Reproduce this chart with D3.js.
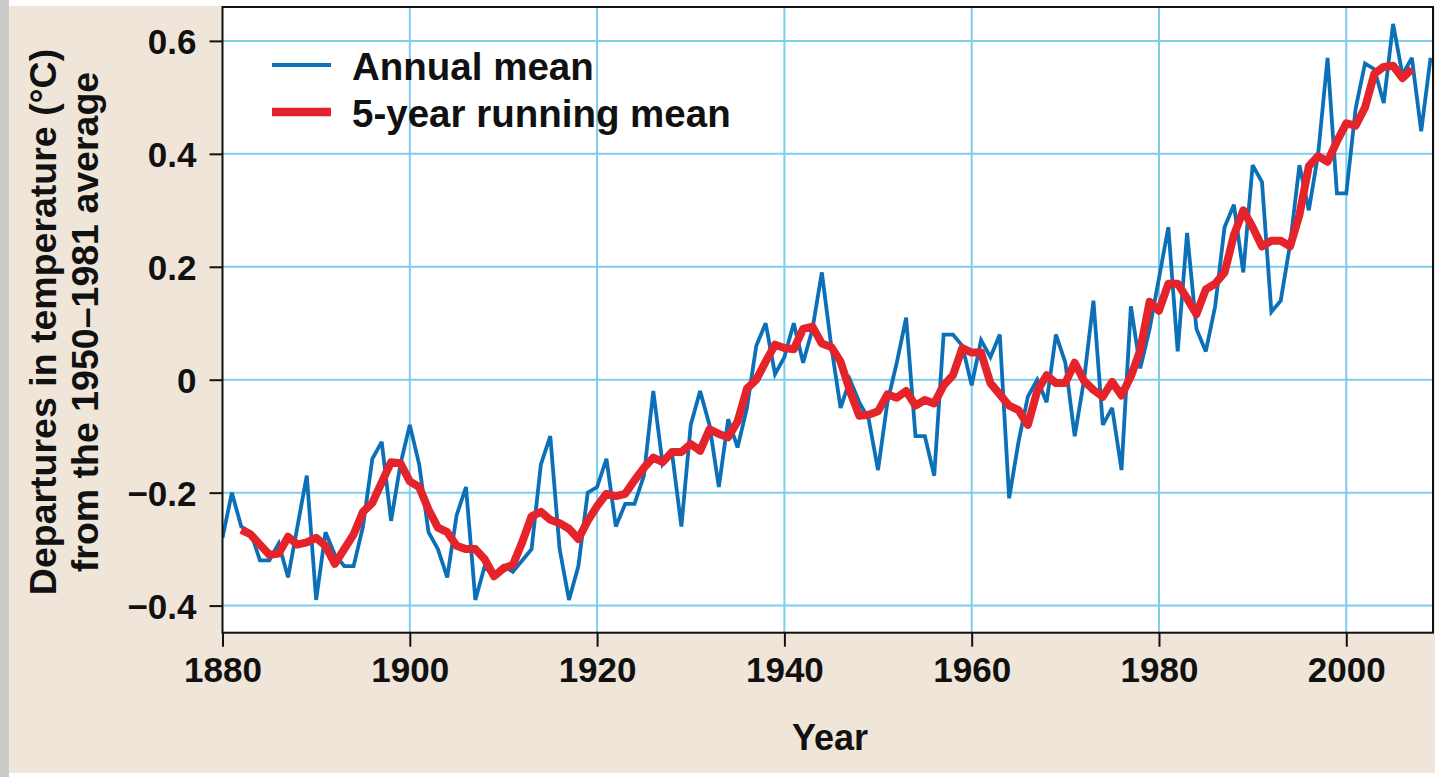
<!DOCTYPE html>
<html>
<head>
<meta charset="utf-8">
<script src="https://cdn.jsdelivr.net/npm/d3@7"></script>
<style>
  html, body { margin: 0; padding: 0; background: #ffffff; }
  svg { display: block; }
  text { font-family: "Liberation Sans", Arial, Helvetica, sans-serif; font-weight: bold; fill: #111; }
</style>
</head>
<body>
<svg id="chart" width="1435" height="777"></svg>
<script>
// ---- Data (°C departures from the 1950–1981 average) ----
const annualStartYear = 1880;
const annualMean = [
  -0.28,-0.20,-0.26,-0.27,-0.32,-0.32,-0.29,-0.35,-0.26,-0.17,
  -0.39,-0.27,-0.31,-0.33,-0.33,-0.26,-0.14,-0.11,-0.25,-0.15,
  -0.08,-0.15,-0.27,-0.30,-0.35,-0.24,-0.19,-0.39,-0.33,-0.35,
  -0.33,-0.34,-0.32,-0.30,-0.15,-0.10,-0.30,-0.39,-0.33,-0.20,
  -0.19,-0.14,-0.26,-0.22,-0.22,-0.17,-0.02,-0.15,-0.13,-0.26,
  -0.08,-0.02,-0.08,-0.19,-0.07,-0.12,-0.05,0.06,0.10,0.01,
  0.04,0.10,0.03,0.09,0.19,0.06,-0.05,0.00,-0.04,-0.07,
  -0.16,-0.04,0.03,0.11,-0.10,-0.10,-0.17,0.08,0.08,0.06,
  -0.01,0.07,0.04,0.08,-0.21,-0.11,-0.03,0.00,-0.04,0.08,
  0.03,-0.10,0.00,0.14,-0.08,-0.05,-0.16,0.13,0.02,0.09,
  0.18,0.27,0.05,0.26,0.09,0.05,0.13,0.27,0.31,0.19,
  0.38,0.35,0.12,0.14,0.24,0.38,0.30,0.40,0.57,0.33,
  0.33,0.48,0.56,0.55,0.49,0.63,0.54,0.57,0.44,0.57
];
const runningStartYear = 1882;
const runningMean = [
  -0.266,-0.274,-0.292,-0.310,-0.308,-0.278,-0.292,-0.288,-0.280,-0.294,
  -0.326,-0.300,-0.274,-0.234,-0.218,-0.182,-0.146,-0.148,-0.180,-0.190,
  -0.230,-0.262,-0.270,-0.294,-0.300,-0.300,-0.318,-0.348,-0.334,-0.328,
  -0.288,-0.242,-0.234,-0.248,-0.254,-0.264,-0.282,-0.250,-0.224,-0.202,
  -0.206,-0.202,-0.178,-0.156,-0.138,-0.146,-0.128,-0.128,-0.114,-0.126,
  -0.088,-0.096,-0.102,-0.074,-0.016,0.000,0.032,0.062,0.056,0.054,
  0.090,0.094,0.064,0.058,0.032,-0.020,-0.064,-0.062,-0.056,-0.026,
  -0.032,-0.020,-0.046,-0.036,-0.042,-0.010,0.008,0.056,0.048,0.048,
  -0.006,-0.026,-0.046,-0.054,-0.080,-0.020,0.008,-0.006,-0.006,0.030,
  -0.002,-0.018,-0.030,-0.004,-0.028,0.006,0.052,0.138,0.122,0.170,
  0.170,0.144,0.116,0.160,0.170,0.190,0.256,0.300,0.270,0.236,
  0.246,0.246,0.236,0.292,0.378,0.396,0.386,0.422,0.454,0.450,
  0.482,0.542,0.554,0.556,0.534,0.550
];
const xTickYears = [1880, 1900, 1920, 1940, 1960, 1980, 2000];
const yTickValues = [-0.4, -0.2, 0, 0.2, 0.4, 0.6];
const legendLabels = ["Annual mean", "5-year running mean"];
const axisTitleX = "Year";
const axisTitleY = ["Departures in temperature (\u00B0C)", "from the 1950\u20131981 average"];

// ---- Layout ----
const W = 1435, H = 777;
const plot = { left: 222.5, right: 1433, top: 7, bottom: 632.7 };
const colors = { annual: "#0b70b8", running: "#e5232b", grid: "#7dcdec", bg: "#efe5d8" };

const svg = d3.select("#chart");

// background
svg.append("rect").attr("x", 0).attr("y", 0).attr("width", W).attr("height", H).attr("fill", "#ffffff");
svg.append("rect").attr("x", 0).attr("y", 0).attr("width", 9).attr("height", H).attr("fill", "#cbcbcb");
svg.append("rect").attr("x", 9).attr("y", 6).attr("width", W - 9).attr("height", 767).attr("fill", colors.bg);

// scales
const x = d3.scaleLinear().domain([1880, 2009.26]).range([plot.left, plot.right]);
const y = d3.scaleLinear().domain([-0.448, 0.66]).range([plot.bottom, plot.top]);

// plot area
svg.append("rect")
  .attr("x", plot.left).attr("y", plot.top)
  .attr("width", plot.right - plot.left).attr("height", plot.bottom - plot.top)
  .attr("fill", "#ffffff");

// grid
const grid = svg.append("g");
grid.selectAll("line.v").data(xTickYears.filter(d => d > 1880)).join("line")
  .attr("x1", d => x(d)).attr("x2", d => x(d))
  .attr("y1", plot.top).attr("y2", plot.bottom)
  .attr("stroke", colors.grid).attr("stroke-width", 2);
grid.selectAll("line.h").data(yTickValues).join("line")
  .attr("x1", plot.left).attr("x2", plot.right)
  .attr("y1", d => y(d)).attr("y2", d => y(d))
  .attr("stroke", colors.grid).attr("stroke-width", 2);

// clip
svg.append("clipPath").attr("id", "clip").append("rect")
  .attr("x", plot.left).attr("y", plot.top)
  .attr("width", plot.right - plot.left).attr("height", plot.bottom - plot.top);

const annualData = annualMean.map((v, i) => ({ year: annualStartYear + i, v }));
const runningData = runningMean.map((v, i) => ({ year: runningStartYear + i, v }));

const line = d3.line().x(d => x(d.year)).y(d => y(d.v));

const lines = svg.append("g").attr("clip-path", "url(#clip)");
lines.append("path").datum(annualData)
  .attr("d", line).attr("fill", "none")
  .attr("stroke", colors.annual).attr("stroke-width", 3.8)
  .attr("stroke-linejoin", "miter").attr("stroke-miterlimit", 3);
lines.append("path").datum(runningData)
  .attr("d", line).attr("fill", "none")
  .attr("stroke", colors.running).attr("stroke-width", 8)
  .attr("stroke-linejoin", "round").attr("stroke-linecap", "butt");

// frame
svg.append("rect")
  .attr("x", plot.left).attr("y", plot.top)
  .attr("width", plot.right - plot.left).attr("height", plot.bottom - plot.top)
  .attr("fill", "none").attr("stroke", "#111").attr("stroke-width", 2);

// axes
const fmt = d => d === 0 ? "0" : d3.format(".1f")(d);
const xAxis = svg.append("g")
  .attr("transform", `translate(0,${plot.bottom})`)
  .call(d3.axisBottom(x).tickValues(xTickYears).tickFormat(d3.format("d")).tickSize(14).tickPadding(10));
const yAxis = svg.append("g")
  .attr("transform", `translate(${plot.left},0)`)
  .call(d3.axisLeft(y).tickValues(yTickValues).tickFormat(fmt).tickSize(13).tickPadding(13));
[xAxis, yAxis].forEach(a => {
  a.select(".domain").remove();
  a.selectAll(".tick line").attr("stroke", "#111").attr("stroke-width", 2);
  a.selectAll(".tick text").attr("fill", "#111")
    .style("font-family", "'Liberation Sans', Arial, sans-serif")
    .style("font-weight", "bold").style("font-size", "35px");
});
xAxis.selectAll(".tick text").attr("dy", "0.71em");
yAxis.selectAll(".tick text").attr("dy", "0.36em");

// axis titles
svg.append("text").attr("x", 830).attr("y", 750)
  .attr("text-anchor", "middle").style("font-size", "36px").text(axisTitleX);
const yt = svg.append("g").attr("transform", "translate(0,322) rotate(-90)");
yt.append("text").attr("x", 0).attr("y", 56).attr("text-anchor", "middle")
  .style("font-size", "37.5px").text(axisTitleY[0]);
yt.append("text").attr("x", 0).attr("y", 98).attr("text-anchor", "middle")
  .style("font-size", "37.5px").text(axisTitleY[1]);

// legend
const legend = svg.append("g");
const legendItems = [
  { label: legendLabels[0], color: colors.annual, width: 3.8, y: 65 },
  { label: legendLabels[1], color: colors.running, width: 8.5, y: 112 }
];
legendItems.forEach(it => {
  legend.append("line").attr("x1", 272).attr("x2", 331).attr("y1", it.y).attr("y2", it.y)
    .attr("stroke", it.color).attr("stroke-width", it.width);
  legend.append("text").attr("x", 352).attr("y", it.y + 14.5)
    .style("font-size", "38.5px").text(it.label);
});
</script>
</body>
</html>
